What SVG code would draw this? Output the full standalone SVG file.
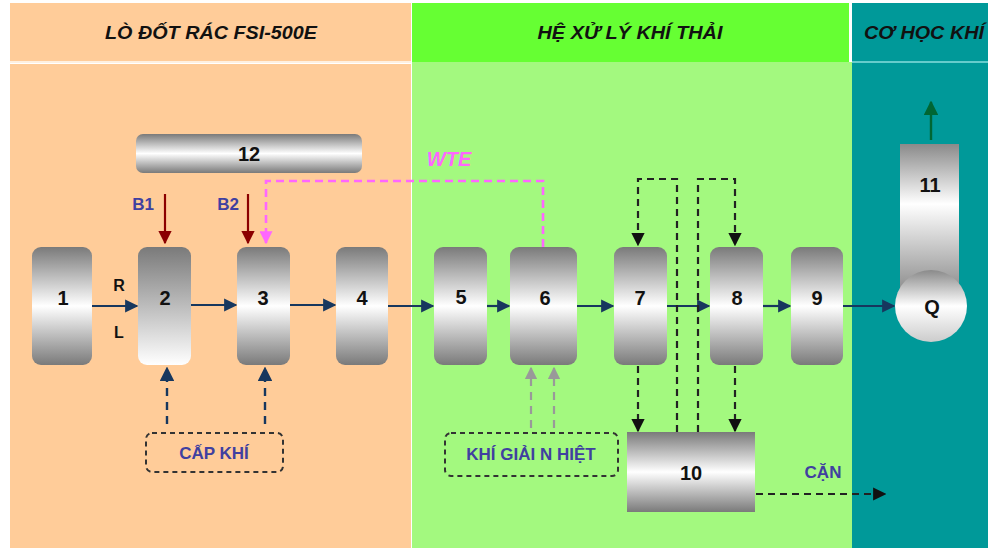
<svg xmlns="http://www.w3.org/2000/svg" width="988" height="548" viewBox="0 0 988 548">
<defs>
<linearGradient id="gv" x1="0" y1="0" x2="0" y2="1">
<stop offset="0" stop-color="#7a7a7a"/><stop offset="0.5" stop-color="#ffffff"/><stop offset="1" stop-color="#7a7a7a"/>
</linearGradient>
<linearGradient id="gv2" x1="0" y1="0" x2="0" y2="1">
<stop offset="0" stop-color="#7a7a7a"/><stop offset="1" stop-color="#ffffff"/>
</linearGradient>
<linearGradient id="g11" x1="0" y1="0" x2="0" y2="1">
<stop offset="0" stop-color="#8a8a8a"/><stop offset="0.4" stop-color="#ffffff"/><stop offset="1" stop-color="#8a8a8a"/>
</linearGradient>
<linearGradient id="gq" x1="0" y1="0" x2="0" y2="1">
<stop offset="0" stop-color="#8a8a8a"/><stop offset="0.5" stop-color="#ffffff"/><stop offset="1" stop-color="#cccccc"/>
</linearGradient>
<marker id="an" viewBox="0 0 10 10" refX="9" refY="5" markerWidth="6" markerHeight="6" orient="auto"><path d="M0,0L10,5L0,10z" fill="#17375e"/></marker>
<marker id="ar" viewBox="0 0 10 10" refX="9" refY="5" markerWidth="6" markerHeight="6" orient="auto"><path d="M0,0L10,5L0,10z" fill="#8b0000"/></marker>
<marker id="ap" viewBox="0 0 10 10" refX="9" refY="5" markerWidth="5" markerHeight="5" orient="auto"><path d="M0,0L10,5L0,10z" fill="#ff66ff"/></marker>
<marker id="ak" viewBox="0 0 10 10" refX="9" refY="5" markerWidth="6" markerHeight="6" orient="auto"><path d="M0,0L10,5L0,10z" fill="#111"/></marker>
<marker id="ag" viewBox="0 0 10 10" refX="9" refY="5" markerWidth="5.5" markerHeight="5.5" orient="auto"><path d="M0,0L10,5L0,10z" fill="#999"/></marker>
<marker id="agr" viewBox="0 0 10 10" refX="9" refY="5" markerWidth="6" markerHeight="6" orient="auto"><path d="M0,0L10,5L0,10z" fill="#006633"/></marker>
</defs>
<style>
.hd{font-family:"Liberation Sans",Arial,sans-serif;font-size:19px;font-weight:bold;font-style:italic;fill:#111;text-anchor:middle}
.num{font-family:"Liberation Sans",Arial,sans-serif;font-size:20px;font-weight:bold;fill:#111;text-anchor:middle}
.lbl{font-family:"Liberation Sans",Arial,sans-serif;font-size:17px;font-weight:bold;fill:#4040a0;text-anchor:middle}
.rl{font-family:"Liberation Sans",Arial,sans-serif;font-size:16px;font-weight:bold;fill:#111;text-anchor:middle}
.main{stroke:#17375e;stroke-width:2.2;fill:none;marker-end:url(#an)}
.dk{stroke:#222;stroke-width:2.2;fill:none;stroke-dasharray:7 5}
.box{fill:none;stroke:#333;stroke-width:2;stroke-dasharray:5 4}
</style>
<rect x="0" y="0" width="988" height="548" fill="#ffffff"/>
<g id="panels">
<rect x="10" y="3" width="401" height="58" fill="#ffcc99"/>
<rect x="10" y="64" width="401" height="484" fill="#ffcc99"/>
<rect x="412" y="3" width="437" height="59" fill="#66ff33"/>
<rect x="412" y="62" width="440" height="486" fill="#a3f97f"/>
<rect x="852" y="3" width="136" height="545" fill="#009999"/>
<line x1="852" y1="62" x2="988" y2="62" stroke="#6cc" stroke-width="2"/>
<line x1="10" y1="62" x2="411" y2="62" stroke="#fff0e0" stroke-width="2"/>
<text class="hd" x="211" y="39" textLength="212" lengthAdjust="spacingAndGlyphs">LÒ ĐỐT RÁC FSI-500E</text>
<text class="hd" x="630" y="39" textLength="185" lengthAdjust="spacingAndGlyphs">HỆ XỬ LÝ KHÍ THẢI</text>
<text class="hd" x="924" y="39" textLength="120" lengthAdjust="spacingAndGlyphs">CƠ HỌC KHÍ</text>
</g>
<g id="connectors">
<line class="main" x1="92" y1="306" x2="137" y2="306"/>
<line class="main" x1="191" y1="305" x2="236" y2="305"/>
<line class="main" x1="290" y1="305" x2="335" y2="305"/>
<line class="main" x1="388" y1="306" x2="433" y2="306"/>
<line class="main" x1="487" y1="306" x2="509" y2="306"/>
<line class="main" x1="577" y1="306" x2="613" y2="306"/>
<line class="main" x1="667" y1="306" x2="709" y2="306"/>
<line class="main" x1="763" y1="306" x2="790" y2="306"/>
<line class="main" x1="843" y1="306" x2="894" y2="306"/>
<line x1="165" y1="194" x2="165" y2="243" stroke="#8b0000" stroke-width="2.2" marker-end="url(#ar)"/>
<line x1="248" y1="194" x2="248" y2="243" stroke="#8b0000" stroke-width="2.2" marker-end="url(#ar)"/>
<path d="M543,247V181H266V243" fill="none" stroke="#ff66ff" stroke-width="2.6" stroke-dasharray="8 5" marker-end="url(#ap)"/>
<path d="M677,432V179H638V245" class="dk" marker-end="url(#ak)"/>
<path d="M698,432V179H735V245" class="dk" marker-end="url(#ak)"/>
<line x1="638" y1="366" x2="638" y2="431" class="dk" marker-end="url(#ak)"/>
<line x1="735" y1="366" x2="735" y2="431" class="dk" marker-end="url(#ak)"/>
<line x1="756" y1="494" x2="885" y2="494" class="dk" marker-end="url(#ak)"/>
<line x1="167" y1="424" x2="167" y2="368" stroke="#17375e" stroke-width="2.4" stroke-dasharray="8 6" marker-end="url(#an)"/>
<line x1="265" y1="424" x2="265" y2="368" stroke="#17375e" stroke-width="2.4" stroke-dasharray="8 6" marker-end="url(#an)"/>
<line x1="531" y1="428" x2="531" y2="368" stroke="#999" stroke-width="2.2" stroke-dasharray="8 6" marker-end="url(#ag)"/>
<line x1="554" y1="428" x2="554" y2="368" stroke="#999" stroke-width="2.2" stroke-dasharray="8 6" marker-end="url(#ag)"/>
<line x1="931" y1="140" x2="931" y2="102" stroke="#006633" stroke-width="2.4" marker-end="url(#agr)"/>
<text class="lbl" x="143" y="210">B1</text>
<text class="lbl" x="228" y="210">B2</text>
<text x="449" y="166" font-family="Liberation Sans,Arial,sans-serif" font-size="20" font-weight="bold" font-style="italic" fill="#ff66ff" text-anchor="middle">WTE</text>
<text class="rl" x="119" y="291">R</text>
<text class="rl" x="119" y="338">L</text>
<text class="lbl" x="823" y="478">CẶN</text>
</g>
<g id="n12"><rect x="136" y="134" width="226" height="39" rx="7" fill="url(#gv)"/><text class="num" x="249" y="161">12</text></g>
<g id="n1"><rect x="32" y="247" width="60" height="118" rx="9" fill="url(#gv)"/><text class="num" x="63" y="305">1</text></g>
<g id="n2"><rect x="138" y="247" width="53" height="118" rx="9" fill="url(#gv2)"/><text class="num" x="165" y="305">2</text></g>
<g id="n3"><rect x="237" y="247" width="53" height="118" rx="9" fill="url(#gv)"/><text class="num" x="263" y="305">3</text></g>
<g id="n4"><rect x="336" y="247" width="52" height="118" rx="9" fill="url(#gv)"/><text class="num" x="362" y="305">4</text></g>
<g id="n5"><rect x="434" y="247" width="53" height="118" rx="9" fill="url(#gv)"/><text class="num" x="461" y="304">5</text></g>
<g id="n6"><rect x="510" y="247" width="67" height="118" rx="9" fill="url(#gv)"/><text class="num" x="545" y="305">6</text></g>
<g id="n7"><rect x="614" y="247" width="53" height="118" rx="9" fill="url(#gv)"/><text class="num" x="640" y="305">7</text></g>
<g id="n8"><rect x="710" y="247" width="53" height="118" rx="9" fill="url(#gv)"/><text class="num" x="737" y="305">8</text></g>
<g id="n9"><rect x="791" y="247" width="52" height="118" rx="9" fill="url(#gv)"/><text class="num" x="817" y="305">9</text></g>
<g id="n10"><rect x="627" y="432" width="128" height="80" fill="url(#gv)"/><text class="num" x="691" y="480">10</text></g>
<g id="n11"><rect x="900" y="144" width="59" height="150" fill="url(#g11)"/><text class="num" x="930" y="192">11</text></g>
<g id="nQ"><circle cx="931" cy="306" r="36" fill="url(#gq)"/><text class="num" x="932" y="314">Q</text></g>
<g id="capkhi"><rect x="146" y="433" width="137" height="39" rx="6" class="box"/><text class="lbl" x="214" y="459">CẤP KHÍ</text></g>
<g id="khigiainhiet"><rect x="445" y="433" width="173" height="43" rx="6" class="box"/><text class="lbl" x="531" y="460">KHÍ GIẢI N HIỆT</text></g>
</svg>
